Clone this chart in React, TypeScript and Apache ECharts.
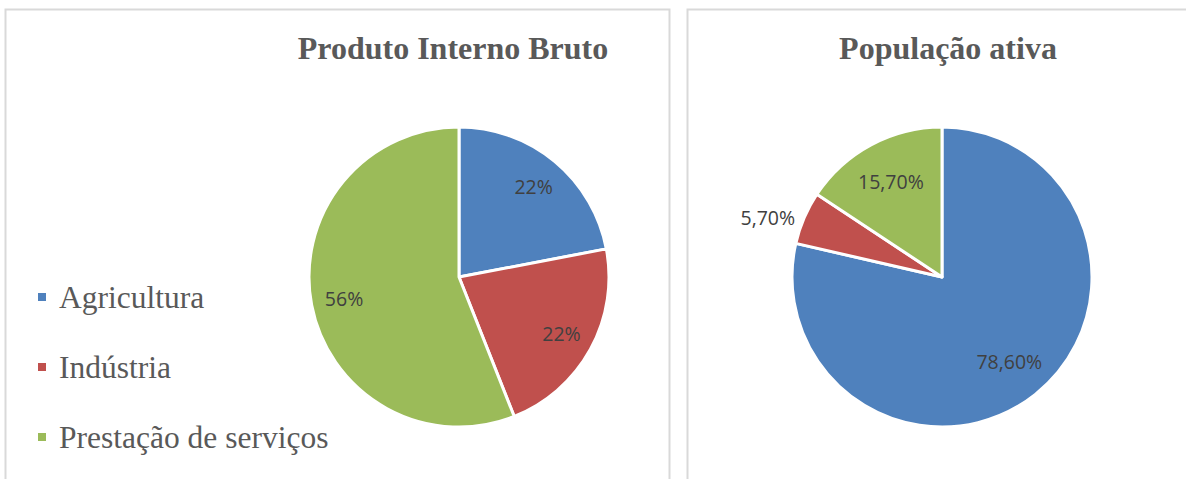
import React, { useEffect, useRef } from "react";
import * as echarts from "echarts";

const categories = ["Agricultura", "Indústria", "Prestação de serviços"];
const pibValues = [22, 22, 56];
const pibLabels = ["22%", "22%", "56%"];
const popValues = [78.6, 5.7, 15.7];
const popLabels = ["78,60%", "5,70%", "15,70%"];
const colors = ["#4F81BD", "#C0504D", "#9BBB59"];

export default function App() {
  const ref = useRef<HTMLDivElement>(null);
  useEffect(() => {
    document.body.style.margin = "0";
    const chart = echarts.init(ref.current!, null, { renderer: "svg" });
    const labelFont = { fontFamily: "Open Sans", fontSize: 19.5, color: "#404040" };
    const mainData = (vals: number[]) =>
      vals.map((v, i) => ({ name: categories[i], value: v, itemStyle: { color: colors[i] } }));
    const labelData = (vals: number[], labels: string[], outsideIdx: number[]) =>
      vals.map((v, i) => ({
        name: categories[i],
        value: v,
        label: outsideIdx.includes(i)
          ? { position: "outside", formatter: labels[i], distanceToLabelLine: 9 }
          : { position: "inside", formatter: labels[i] },
        labelLine: { show: false, length: 0, length2: 0 },
      }));
    const titleStyle = { fontFamily: "Liberation Serif", fontWeight: "bold", fontSize: 32, color: "#595959" };
    chart.setOption({
      animation: false,
      color: colors,
      graphic: [
        { type: "rect", shape: { x: 5.5, y: 9.5, width: 664, height: 520 }, style: { fill: "none", stroke: "#d9d9d9", lineWidth: 2 }, z: 0 },
        { type: "rect", shape: { x: 687.5, y: 9.5, width: 560, height: 520 }, style: { fill: "none", stroke: "#d9d9d9", lineWidth: 2 }, z: 0 },
      ],
      title: [
        { text: "Produto Interno Bruto", left: 448, top: 27, textAlign: "center", textStyle: titleStyle },
        { text: "População ativa", left: 943, top: 27, textAlign: "center", textStyle: titleStyle },
      ],
      legend: {
        orient: "vertical",
        left: 36,
        top: 281,
        padding: 0,
        data: categories,
        icon: "rect",
        itemWidth: 10,
        itemHeight: 10,
        itemGap: 38,
        textStyle: { fontFamily: "Liberation Serif", fontSize: 31.5, color: "#595959", lineHeight: 32, padding: [0, 0, 0, 7] },
      },
      series: [
        {
          type: "pie",
          center: [459, 277],
          radius: [0, 150],
          startAngle: 90,
          clockwise: true,
          label: { show: false },
          labelLine: { show: false },
          itemStyle: { borderColor: "#ffffff", borderWidth: 3 },
          data: mainData(pibValues),
        },
        {
          type: "pie",
          center: [942, 277],
          radius: [0, 150],
          startAngle: 90,
          clockwise: true,
          label: { show: false },
          labelLine: { show: false },
          itemStyle: { borderColor: "#ffffff", borderWidth: 3 },
          data: mainData(popValues),
        },
        {
          type: "pie",
          center: [459, 277],
          radius: [78, 150],
          startAngle: 90,
          silent: true,
          avoidLabelOverlap: false,
          itemStyle: { color: "transparent", borderWidth: 0 },
          label: { show: true, ...labelFont },
          data: labelData(pibValues, pibLabels, []),
        },
        {
          type: "pie",
          center: [942, 277],
          radius: [60, 150],
          startAngle: 90,
          silent: true,
          avoidLabelOverlap: false,
          itemStyle: { color: "transparent", borderWidth: 0 },
          label: { show: true, ...labelFont },
          data: labelData(popValues, popLabels, [1]),
        },
      ],
    });
    return () => chart.dispose();
  }, []);
  return <div ref={ref} style={{ width: 1186, height: 479 }} />;
}
